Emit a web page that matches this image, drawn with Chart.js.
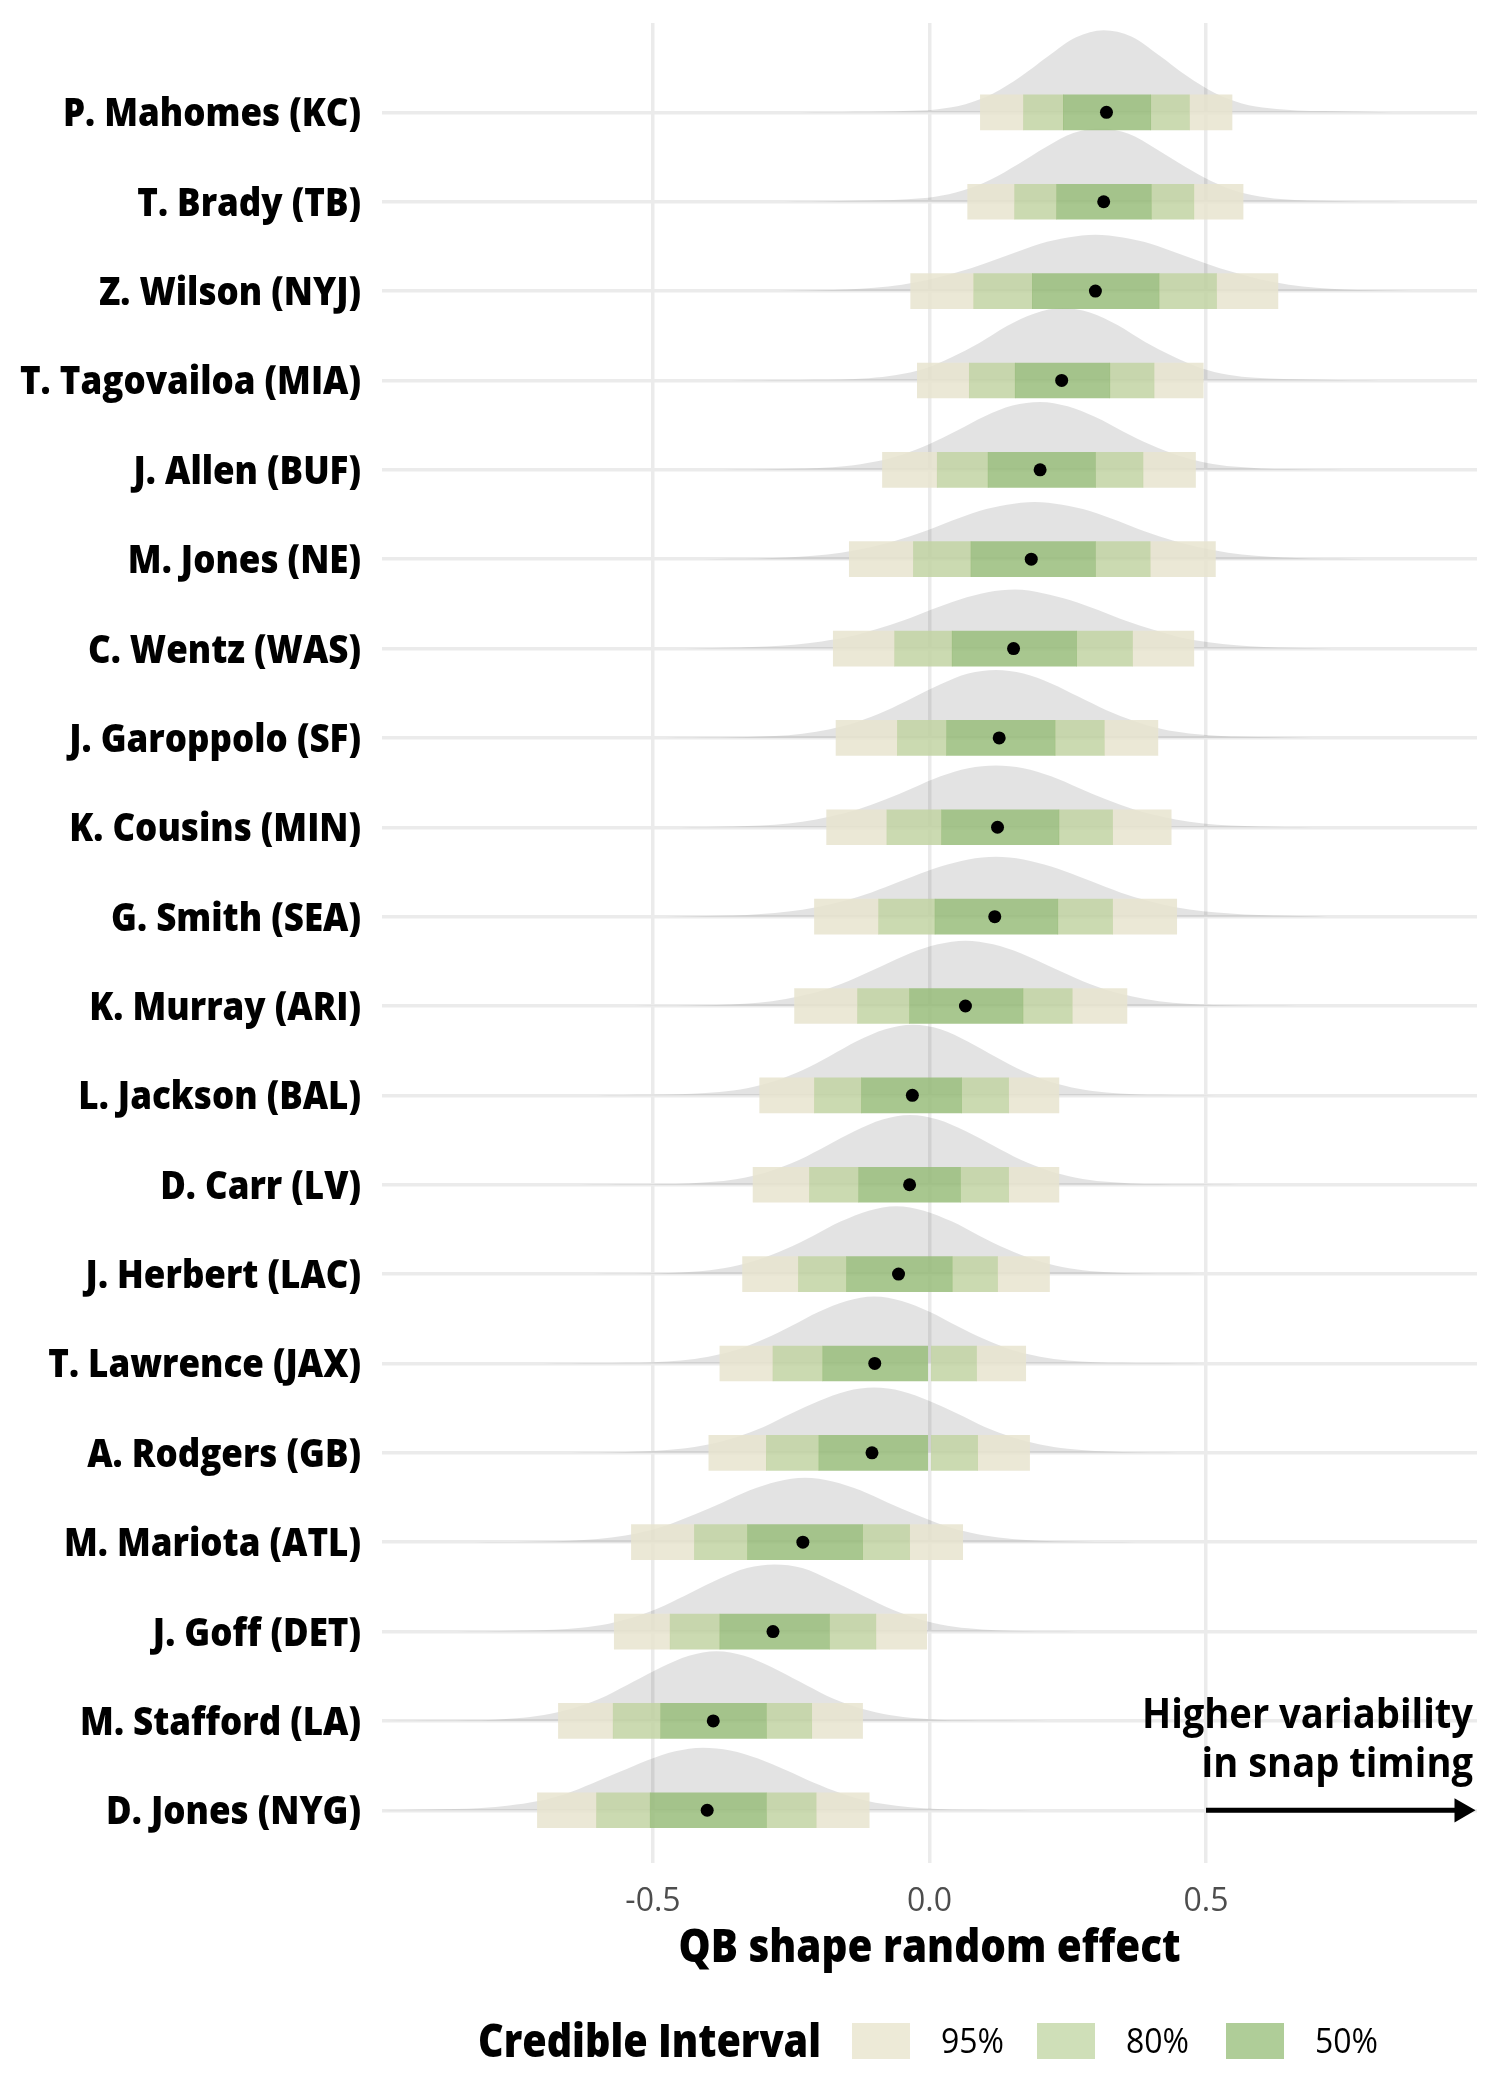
<!DOCTYPE html>
<html lang="en">
<head>
<meta charset="UTF-8">
<title>QB shape random effect</title>
<script src="https://cdn.jsdelivr.net/npm/chart.js"></script>
<style>
  html, body { margin: 0; padding: 0; background: #fff; }
  #wrap { width: 1500px; height: 2100px; }
</style>
</head>
<body>
<div id="wrap"><canvas id="qbChart" width="1500" height="2100"></canvas></div>
<script>
    // Players, top to bottom
    const players = [
        'P. Mahomes (KC)', 'T. Brady (TB)', 'Z. Wilson (NYJ)', 'T. Tagovailoa (MIA)',
        'J. Allen (BUF)', 'M. Jones (NE)', 'C. Wentz (WAS)', 'J. Garoppolo (SF)',
        'K. Cousins (MIN)', 'G. Smith (SEA)', 'K. Murray (ARI)', 'L. Jackson (BAL)',
        'D. Carr (LV)', 'J. Herbert (LAC)', 'T. Lawrence (JAX)', 'A. Rodgers (GB)',
        'M. Mariota (ATL)', 'J. Goff (DET)', 'M. Stafford (LA)', 'D. Jones (NYG)'
    ];

    // Posterior medians and credible intervals
    const median = [0.320, 0.315, 0.300, 0.239, 0.200, 0.184, 0.152, 0.126, 0.123, 0.118,
                    0.065, -0.031, -0.036, -0.056, -0.099, -0.104, -0.229, -0.283, -0.391, -0.402];
    const lo95 = [0.092, 0.069, -0.034, -0.022, -0.085, -0.145, -0.174, -0.169, -0.186, -0.208,
                  -0.244, -0.307, -0.319, -0.338, -0.379, -0.399, -0.539, -0.570, -0.671, -0.709];
    const hi95 = [0.547, 0.567, 0.630, 0.495, 0.481, 0.517, 0.478, 0.413, 0.437, 0.447,
                  0.357, 0.234, 0.234, 0.217, 0.174, 0.181, 0.060, -0.005, -0.121, -0.109];
    const lo80 = [0.170, 0.154, 0.080, 0.072, 0.014, -0.029, -0.063, -0.058, -0.077, -0.092,
                  -0.130, -0.208, -0.217, -0.237, -0.283, -0.295, -0.425, -0.469, -0.572, -0.602];
    const hi80 = [0.470, 0.478, 0.519, 0.406, 0.386, 0.399, 0.367, 0.316, 0.331, 0.331,
                  0.258, 0.143, 0.143, 0.123, 0.085, 0.087, -0.036, -0.097, -0.213, -0.205];
    const lo50 = [0.242, 0.230, 0.186, 0.155, 0.106, 0.075, 0.041, 0.031, 0.022, 0.010,
                  -0.036, -0.123, -0.128, -0.150, -0.193, -0.200, -0.329, -0.379, -0.486, -0.505];
    const hi50 = [0.400, 0.401, 0.415, 0.326, 0.300, 0.300, 0.266, 0.227, 0.234, 0.232,
                  0.169, 0.058, 0.056, 0.041, 0.000, 0.000, -0.121, -0.181, -0.295, -0.295];

    // Density slabs: heights (in rows) sampled every densityStep around densityCenter
    const densityStep = 0.05;
    const densityCenter = [0.315, 0.31, 0.30, 0.24, 0.20, 0.19, 0.155, 0.12, 0.12, 0.12,
                           0.065, -0.03, -0.035, -0.06, -0.10, -0.10, -0.225, -0.28, -0.385, -0.41];
    const densityHeights = [
        [0,.001,.003,.006,.01,.018,.035,.09,.21,.40,.63,.84,.92,.85,.64,.41,.22,.10,.045,.022,.014,.009,.005,.002,0],
        [0,.003,.006,.01,.016,.028,.055,.125,.245,.42,.61,.77,.82,.76,.59,.40,.23,.11,.048,.02,.011,.006,.003,.001,0],
        [0,.004,.009,.018,.037,.072,.13,.21,.31,.42,.53,.60,.63,.60,.53,.42,.31,.21,.13,.072,.037,.018,.009,.004,0],
        [0,.002,.004,.007,.012,.025,.06,.13,.26,.42,.61,.75,.81,.76,.62,.43,.27,.14,.065,.03,.016,.01,.006,.003,0],
        [0,.003,.006,.011,.021,.043,.09,.17,.29,.44,.60,.72,.76,.71,.59,.43,.28,.16,.08,.036,.016,.008,.004,.002,0],
        [0,.004,.009,.018,.038,.073,.13,.21,.31,.43,.54,.61,.64,.61,.54,.43,.31,.21,.13,.073,.038,.018,.009,.004,0],
        [0,.006,.012,.023,.043,.08,.135,.22,.32,.44,.55,.63,.66,.62,.54,.43,.31,.21,.125,.07,.036,.017,.008,.003,0],
        [0,.002,.004,.009,.02,.046,.097,.18,.30,.45,.60,.72,.76,.72,.61,.46,.31,.19,.10,.05,.024,.012,.006,.003,0],
        [0,.003,.006,.013,.029,.061,.12,.20,.31,.44,.57,.66,.69,.66,.57,.44,.31,.20,.12,.061,.029,.013,.006,.003,0],
        [0,.004,.009,.019,.04,.076,.14,.22,.33,.45,.56,.64,.67,.64,.56,.45,.33,.22,.14,.08,.045,.024,.013,.006,0],
        [0,.002,.005,.01,.024,.053,.11,.19,.31,.45,.59,.69,.73,.69,.59,.45,.31,.19,.11,.053,.024,.01,.005,.002,0],
        [0,.003,.006,.01,.018,.038,.08,.16,.28,.44,.61,.74,.79,.74,.60,.43,.27,.15,.074,.032,.013,.006,.003,.001,0],
        [0,.002,.004,.007,.015,.035,.079,.16,.28,.44,.60,.73,.78,.73,.60,.44,.28,.16,.079,.035,.015,.007,.004,.002,0],
        [0,.002,.004,.007,.015,.035,.08,.16,.28,.43,.59,.71,.76,.71,.59,.43,.28,.16,.08,.035,.015,.007,.004,.002,0],
        [0,.002,.004,.007,.014,.033,.076,.15,.27,.42,.58,.70,.75,.70,.58,.42,.27,.15,.076,.033,.014,.007,.004,.002,0],
        [0,.002,.004,.009,.02,.045,.093,.175,.29,.44,.58,.69,.73,.69,.58,.44,.29,.175,.093,.045,.02,.009,.004,.002,0],
        [0,.002,.005,.01,.024,.053,.105,.19,.31,.44,.58,.68,.72,.68,.58,.44,.31,.19,.105,.053,.024,.01,.005,.002,0],
        [0,.004,.007,.012,.021,.043,.088,.17,.29,.44,.59,.71,.75,.71,.58,.43,.28,.16,.08,.036,.015,.007,.003,.001,0],
        [0,.002,.004,.007,.014,.034,.079,.16,.28,.44,.60,.73,.78,.73,.60,.44,.28,.16,.079,.034,.014,.007,.004,.002,0],
        [0,.004,.008,.014,.026,.053,.10,.18,.30,.43,.56,.66,.70,.67,.58,.45,.31,.19,.10,.05,.022,.01,.005,.002,0]
    ];

    const xTicks = [-0.5, 0, 0.5];
    const xTitle = 'QB shape random effect';
    const legendTitle = 'Credible Interval';
    const ciLabels = ['95%', '80%', '50%'];
    const noteLines = ['Higher variability', 'in snap timing'];
    const arrowFrom = 0.5;
    const arrowTo = 0.962;

    // Colours
    const ciColors = ['rgba(231,228,207,0.85)', 'rgba(194,211,163,0.85)', 'rgba(153,189,123,0.85)'];
    const ciKeyColors = ['#EDEAD7', '#CFDFB8', '#AFCD98'];
    const slabColor = 'rgba(0,0,0,0.11)';
    const gridColor = '#EBEBEB';
    const face = "'Open Sans', 'Noto Sans', sans-serif";

    // Mahomes sits on row 20 (top), D. Jones on row 1
    const rowOf = i => players.length - i;

    // Interval pieces, so the colours never stack on each other
    const ci95 = [], ci80 = [], ci50 = [];
    players.forEach((p, i) => {
        const y = rowOf(i);
        ci95.push({x: [lo95[i], lo80[i]], y: y}, {x: [hi80[i], hi95[i]], y: y});
        ci80.push({x: [lo80[i], lo50[i]], y: y}, {x: [hi50[i], hi80[i]], y: y});
        ci50.push({x: [lo50[i], hi50[i]], y: y});
    });

    const barSet = (data, color) => ({
        type: 'bar',
        indexAxis: 'y',
        data: data,
        backgroundColor: color,
        borderWidth: 0,
        barThickness: 35,
        grouped: false,
        order: 1
    });

    const slabSets = densityHeights.map((hs, i) => ({
        type: 'line',
        data: hs.map((h, k) => ({
            x: densityCenter[i] + (k - (hs.length - 1) / 2) * densityStep,
            y: rowOf(i) + h
        })),
        fill: {value: rowOf(i)},
        backgroundColor: slabColor,
        borderColor: 'rgba(0,0,0,0)',
        borderWidth: 0,
        pointRadius: 0,
        cubicInterpolationMode: 'monotone',
        order: 2
    }));

    const datasets = [
        {
            type: 'scatter',
            data: median.map((m, i) => ({x: m, y: rowOf(i)})),
            backgroundColor: '#000',
            borderWidth: 0,
            pointRadius: 6.5,
            order: 0
        },
        {
            type: 'line',
            data: [{x: arrowFrom, y: 1}, {x: arrowTo, y: 1}],
            borderColor: '#000',
            borderWidth: 5,
            pointRadius: [0, 14],
            pointStyle: 'triangle',
            rotation: 90,
            pointBackgroundColor: '#000',
            pointBorderWidth: 0,
            order: 0
        },
        barSet(ci50, ciColors[2]),
        barSet(ci80, ciColors[1]),
        barSet(ci95, ciColors[0]),
        ...slabSets
    ];

    // text squeezed sideways to get the narrow look of the original labels
    function squeezed(ctx, text, x, y, sx, align) {
        ctx.save();
        ctx.textAlign = align;
        ctx.translate(x, y);
        ctx.scale(sx, 1);
        ctx.fillText(text, 0, 0);
        ctx.restore();
    }

    // Player labels, axis title, annotation and legend
    const extrasPlugin = {
        id: 'extras',
        afterDraw(chart) {
            const {ctx, chartArea, scales: {x, y}} = chart;
            ctx.save();
            ctx.fillStyle = '#000';
            ctx.textBaseline = 'alphabetic';

            ctx.font = '800 39px ' + face;
            const sLab = 298 / ctx.measureText(players[0]).width;
            players.forEach((p, i) => {
                squeezed(ctx, p, chartArea.left - 21, y.getPixelForValue(rowOf(i)) + 14, sLab, 'right');
            });

            ctx.font = '800 46px ' + face;
            const sTitle = 502 / ctx.measureText(xTitle).width;
            squeezed(ctx, xTitle, x.getPixelForValue(0), 1962, sTitle, 'center');

            ctx.font = 'bold 41px ' + face;
            const sNote = 331 / ctx.measureText(noteLines[0]).width;
            const base = y.getPixelForValue(1);
            squeezed(ctx, noteLines[0], chartArea.right - 4, base - 82, sNote, 'right');
            squeezed(ctx, noteLines[1], chartArea.right - 4, base - 33, sNote, 'right');

            ctx.font = '800 46px ' + face;
            const sLeg = 343 / ctx.measureText(legendTitle).width;
            squeezed(ctx, legendTitle, 478, 2057, sLeg, 'left');

            const boxX = [852, 1037, 1226];
            ctx.font = '35px ' + face;
            const sKey = 63 / ctx.measureText(ciLabels[0]).width;
            ciLabels.forEach((lab, k) => {
                ctx.fillStyle = ciKeyColors[k];
                ctx.fillRect(boxX[k], 2023, 58, 36);
                ctx.fillStyle = '#000';
                squeezed(ctx, lab, boxX[k] + 89, 2053, sKey, 'left');
            });
            ctx.restore();
        }
    };

    new Chart(document.getElementById('qbChart'), {
        type: 'line',
        data: {datasets: datasets},
        options: {
            responsive: false,
            devicePixelRatio: 1,
            animation: false,
            events: [],
            layout: {padding: {left: 0, right: 23, top: 23, bottom: 0}},
            plugins: {legend: {display: false}, tooltip: {enabled: false}},
            scales: {
                x: {
                    type: 'linear',
                    min: -0.99,
                    max: 0.99,
                    offset: false,
                    afterBuildTicks: s => { s.ticks = xTicks.map(v => ({value: v})); },
                    afterFit: s => { s.height = 237; },
                    ticks: {
                        callback: v => v.toFixed(1),
                        font: {family: face, size: 32},
                        color: '#4D4D4D',
                        padding: 20
                    },
                    grid: {color: gridColor, lineWidth: 3.5, drawTicks: false, offset: false},
                    border: {display: false},
                    title: {display: false}
                },
                y: {
                    type: 'linear',
                    min: 0.41,
                    max: 21,
                    offset: false,
                    afterBuildTicks: s => { s.ticks = players.map((p, i) => ({value: rowOf(i)})); },
                    afterFit: s => { s.width = 382; },
                    ticks: {display: false},
                    grid: {color: gridColor, lineWidth: 3.5, drawTicks: false, offset: false},
                    border: {display: false}
                }
            }
        },
        plugins: [extrasPlugin]
    });
</script>
</body>
</html>
